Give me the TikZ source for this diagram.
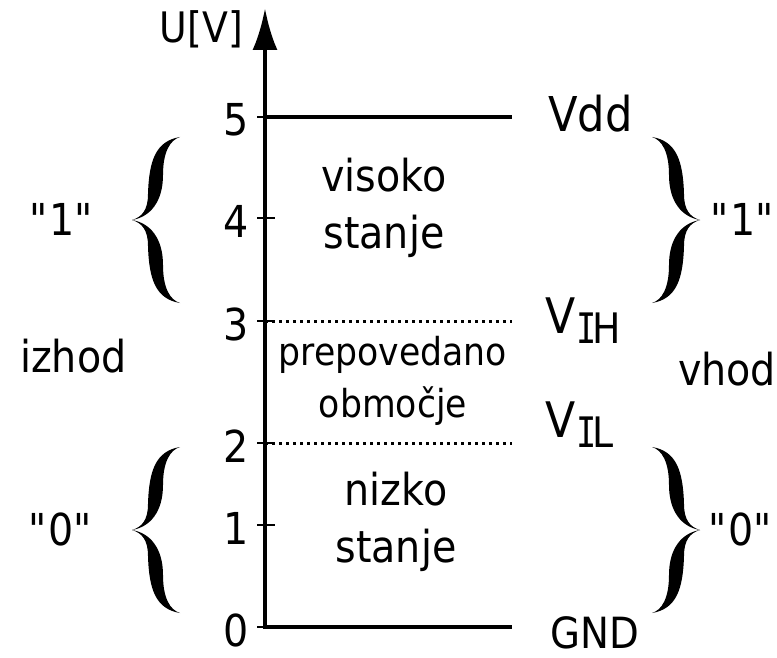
\documentclass[tikz,border=0pt]{standalone}
\usepackage{fontspec}
\setmainfont{DejaVu Sans}[FakeStretch=0.9]
\newfontfamily\monoI{DejaVu Sans Mono}[FakeStretch=0.8]
\usetikzlibrary{arrows.meta}
\tikzset{
  lbl/.style={inner sep=0pt, anchor=base, font=\fontsize{44}{52}\selectfont},
  lblw/.style={lbl, anchor=base west},
  num/.style={lbl, anchor=base east},
  axisline/.style={line width=4.5pt},
  tickline/.style={line width=2.2pt},
  dotline/.style={line width=3pt, dash pattern=on 3pt off 4pt},
  lbrace/.pic={
    \fill (0,0) .. controls (10,-3) and (16,-10) .. (16,-26)
      .. controls (17,-60) and (24,-79) .. (48,-83)
      .. controls (38,-80) and (31,-68) .. (31,-45)
      .. controls (31,-18) and (18,-3) .. (0,0) -- cycle;
    \fill (0,0) .. controls (10,3) and (16,10) .. (16,26)
      .. controls (17,60) and (24,79) .. (48,83)
      .. controls (38,80) and (31,68) .. (31,45)
      .. controls (31,18) and (18,3) .. (0,0) -- cycle;
  }
}
\newcommand{\subI}{{\monoI I}}
\newcommand{\qq}[1]{\textquotedbl#1\textquotedbl}
\begin{document}
\begin{tikzpicture}[x=1pt,y=-1pt]
\useasboundingbox (0,0) rectangle (777,658);
% coordinates
\coordinate (top) at (265,8);
\coordinate (orig) at (265,627);
\coordinate (gndend) at (512,627);
\coordinate (l5) at (265,117);
\coordinate (l5e) at (512,117);
\coordinate (l3) at (265,321);
\coordinate (l3e) at (512,321);
\coordinate (l2) at (265,443);
\coordinate (l2e) at (512,443);
% axis
\draw[axisline, line join=miter, {Latex[length=42pt,width=25pt]}-] (top) -- (orig) -- (gndend);
\draw[axisline] (l5) -- (l5e);
\draw[dotline] (l3) -- (l3e);
\draw[dotline] (l2) -- (l2e);
% ticks
\foreach \n/\y in {5/117,4/218,3/321,2/443,1/525,0/627}{
  \coordinate (ta\n) at (257,\y);
  \coordinate (tb\n) at (275,\y);
  \draw[tickline] (ta\n) -- (tb\n);
  \node[num] (n\n) at (249,\y+19) {\n};
}
\node[lbl, anchor=base east, font=\fontsize{42}{50}\selectfont] (uv) at (243,43) {U[V]};
% region texts
\node[lbl] (vis1) at (384,192) {visoko};
\node[lbl] (vis2) at (384,248) {stanje};
\node[lbl, font=\fontsize{38.5}{46}\selectfont] (pre1) at (393,365) {prepovedano};
\node[lbl, font=\fontsize{38.5}{46}\selectfont] (pre2) at (393,417) {območje};
\node[lbl] (niz1) at (396,505) {nizko};
\node[lbl] (niz2) at (396,562) {stanje};
% right labels
\node[lblw, font=\fontsize{48}{56}\selectfont] (vdd) at (548,132) {Vdd};
\node[lblw] (vih) at (545,333) {{\fontsize{49}{56}\selectfont V}\raisebox{-10pt}{\fontsize{42}{50}\selectfont\kern1pt\subI\kern-4pt H}};
\node[lblw] (vil) at (545,437) {{\fontsize{49}{56}\selectfont V}\raisebox{-10pt}{\fontsize{42}{50}\selectfont\kern1pt\subI\kern-4pt L}};
\node[lblw, font=\fontsize{43}{50}\selectfont] (gnd) at (550,648) {GND};
\node[lblw] (izhod) at (20,372) {izhod};
\node[lblw] (vhod) at (678,385) {vhod};
\node[lbl] (l1) at (62,236) {\qq{1}};
\node[lblw] (r1) at (710,236) {\qq{1}};
\node[lbl] (l0) at (61,545) {\qq{0}};
\node[lblw] (r0) at (708,545) {\qq{0}};
% braces
\pic at (132,220) {lbrace};
\pic at (132,530) {lbrace};
\pic[xscale=-1] at (700,220) {lbrace};
\pic[xscale=-1] at (700,530) {lbrace};
\end{tikzpicture}
\end{document}
